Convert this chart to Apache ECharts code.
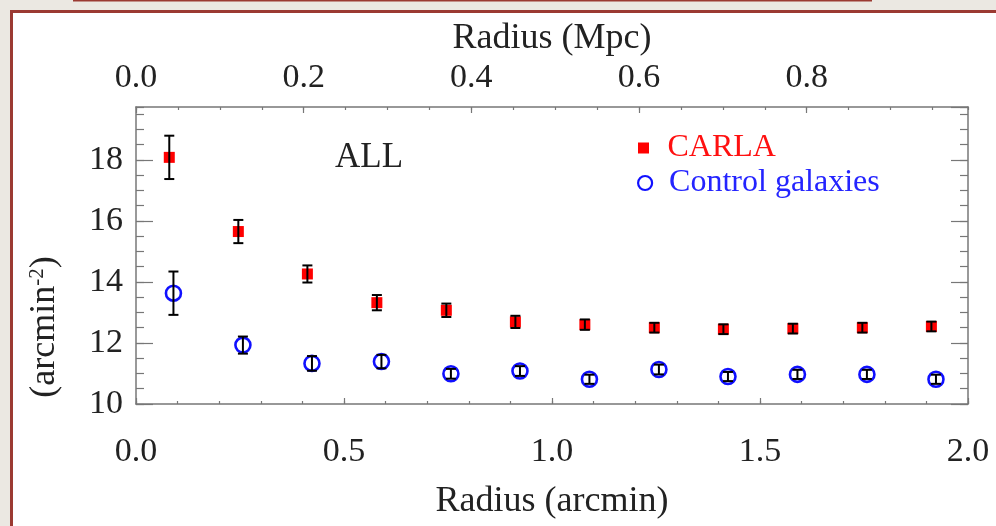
<!DOCTYPE html>
<html>
<head>
<meta charset="utf-8">
<script src="https://cdn.jsdelivr.net/npm/echarts@6/dist/echarts.min.js"></script>
<style>
html,body{margin:0;padding:0;background:#ebe8e2;}
#chart{width:996px;height:526px;}
</style>
</head>
<body>
<div id="chart"></div>
<script>
// ---- data ----
const carlaX   = [0.080, 0.246, 0.412, 0.579, 0.746, 0.912, 1.079, 1.246, 1.412, 1.579, 1.746, 1.912];
const carlaY   = [18.08, 15.65, 14.26, 13.32, 13.07, 12.69, 12.60, 12.50, 12.45, 12.47, 12.50, 12.54];
const carlaErr = [0.71, 0.38, 0.28, 0.25, 0.22, 0.20, 0.17, 0.16, 0.16, 0.16, 0.16, 0.16];

const controlX   = [0.090, 0.257, 0.423, 0.590, 0.757, 0.923, 1.090, 1.257, 1.423, 1.590, 1.757, 1.923];
const controlY   = [13.63, 11.93, 11.33, 11.39, 10.99, 11.08, 10.81, 11.13, 10.90, 10.97, 10.97, 10.81];
const controlErr = [0.71, 0.28, 0.24, 0.22, 0.16, 0.16, 0.15, 0.16, 0.15, 0.15, 0.15, 0.15];

const seriesNames = ['CARLA', 'Control galaxies'];
const panelLabel = 'ALL';
const xNameBottom = 'Radius (arcmin)';
const xNameTop = 'Radius (Mpc)';
const arcminMin = 0, arcminMax = 2.0;
const mpcPerArcmin = 0.4962;
const yMin = 10, yMax = 19.73;

// ---- styling ----
const FONT = '"Liberation Serif", "DejaVu Serif", serif';
const TXT = '#222';
const AX = '#777';
const axLine = {show: true, onZero: false, lineStyle: {color: AX, width: 1.5}};
const noLine = {show: false, onZero: false};
const tick = (len) => ({show: true, inside: true, length: len, lineStyle: {color: AX, width: 1.2}});
const lbl = (extra) => Object.assign({color: TXT, fontFamily: FONT, fontSize: 34}, extra);

function multipleOf(v, step) {
  const r = v / step;
  return Math.abs(r - Math.round(r)) < 1e-6;
}

const mpcMax = arcminMax * mpcPerArcmin;

const chart = echarts.init(document.getElementById('chart'), null, {renderer: 'canvas'});

function errorBarRender(params, api) {
  const x = api.value(0), y = api.value(1), e = api.value(2);
  const top = api.coord([x, y + e]);
  const bot = api.coord([x, y - e]);
  const hw = 5;
  const st = {stroke: '#000', lineWidth: 2};
  return {
    type: 'group',
    children: [
      {type: 'line', shape: {x1: top[0], y1: top[1], x2: bot[0], y2: bot[1]}, style: st},
      {type: 'line', shape: {x1: top[0] - hw, y1: top[1], x2: top[0] + hw, y2: top[1]}, style: st},
      {type: 'line', shape: {x1: bot[0] - hw, y1: bot[1], x2: bot[0] + hw, y2: bot[1]}, style: st}
    ]
  };
}

const option = {
  animation: false,
  backgroundColor: '#ebe8e2',
  graphic: [
    {type: 'rect', z: -10, shape: {x: 11.5, y: 11.5, width: 1000, height: 530},
     style: {fill: '#ffffff', stroke: '#9b3a32', lineWidth: 3}},
    {type: 'rect', z: -10, shape: {x: 73, y: 0, width: 799, height: 1.6},
     style: {fill: '#9b3a32'}},
    {type: 'text', x: 45, y: 327, rotation: Math.PI / 2,
     style: {text: '(arcmin{s|-2})', font: '36px ' + FONT, fill: TXT, align: 'center', verticalAlign: 'middle',
             rich: {s: {fontSize: 21, fontFamily: FONT, fill: TXT, verticalAlign: 'top'}}}}
  ],
  title: {
    text: panelLabel, left: 335, top: 140, padding: 0,
    textStyle: {fontFamily: FONT, fontSize: 35, fontWeight: 'normal', color: TXT}
  },
  legend: [
    {
      left: 638, top: 132, orient: 'vertical', itemWidth: 38, itemHeight: 11, padding: 0,
      symbolKeepAspect: true,
      data: [{name: seriesNames[0], icon: 'path://M0,0H10V10H0Z', itemStyle: {color: '#ff0000'}}],
      textStyle: {fontFamily: FONT, fontSize: 32, color: '#ff1010'}
    },
    {
      left: 637, top: 167, orient: 'vertical', itemWidth: 38, itemHeight: 14, padding: 0,
      data: [{name: seriesNames[1], icon: 'circle',
              itemStyle: {color: 'rgba(0,0,0,0)', borderColor: '#1010ff', borderWidth: 2.2}}],
      textStyle: {fontFamily: FONT, fontSize: 32, color: '#2424ff'}
    }
  ],
  grid: {left: 136, top: 107, right: 28, bottom: 122, show: false},
  xAxis: [
    {
      type: 'value', position: 'bottom', min: arcminMin, max: arcminMax, interval: 0.5,
      axisLine: axLine, axisTick: tick(6), splitLine: {show: false},
      axisLabel: lbl({margin: 31, formatter: v => v.toFixed(1)}),
      name: xNameBottom, nameLocation: 'middle', nameGap: 80,
      nameTextStyle: {fontFamily: FONT, fontSize: 36, color: TXT}
    },
    {
      type: 'value', position: 'bottom', min: arcminMin, max: arcminMax, interval: 0.1,
      axisLine: noLine, axisTick: tick(3), axisLabel: {show: false}, splitLine: {show: false}
    },
    {
      type: 'value', position: 'top', min: 0, max: mpcMax, interval: 0.2,
      axisLine: axLine, axisTick: tick(6), splitLine: {show: false},
      axisLabel: lbl({margin: 12, showMaxLabel: false,
        formatter: v => multipleOf(v, 0.2) ? v.toFixed(1) : ''}),
      name: xNameTop, nameLocation: 'middle', nameGap: 50,
      nameTextStyle: {fontFamily: FONT, fontSize: 36, color: TXT}
    },
    {
      type: 'value', position: 'top', min: 0, max: mpcMax, interval: 0.05,
      axisLine: noLine, axisTick: tick(3), axisLabel: {show: false}, splitLine: {show: false}
    }
  ],
  yAxis: [
    {
      type: 'value', position: 'left', min: yMin, max: yMax, interval: 2,
      axisLine: axLine, axisTick: tick(17), splitLine: {show: false},
      axisLabel: lbl({margin: 13, showMaxLabel: false,
        formatter: v => (multipleOf(v, 2) ? String(Math.round(v)) : '')})
    },
    {
      type: 'value', position: 'left', min: yMin, max: yMax, interval: 0.5,
      axisLine: noLine, axisTick: tick(8), axisLabel: {show: false}, splitLine: {show: false}
    },
    {
      type: 'value', position: 'right', min: yMin, max: yMax, interval: 2,
      axisLine: axLine, axisTick: tick(17), axisLabel: {show: false}, splitLine: {show: false}
    },
    {
      type: 'value', position: 'right', min: yMin, max: yMax, interval: 0.5,
      axisLine: noLine, axisTick: tick(8), axisLabel: {show: false}, splitLine: {show: false}
    }
  ],
  series: [
    {
      name: seriesNames[0], type: 'scatter', xAxisIndex: 0, yAxisIndex: 0, z: 2,
      symbol: 'rect', symbolSize: 11,
      itemStyle: {color: '#ff0000', opacity: 1},
      data: carlaX.map((x, i) => [x, carlaY[i]])
    },
    {
      name: seriesNames[1], type: 'scatter', xAxisIndex: 0, yAxisIndex: 0, z: 2,
      symbol: 'circle', symbolSize: 15,
      itemStyle: {color: 'rgba(0,0,0,0)', borderColor: '#1010ff', borderWidth: 2.6, opacity: 1},
      data: controlX.map((x, i) => [x, controlY[i]])
    },
    {
      name: 'carlaErr', type: 'custom', xAxisIndex: 0, yAxisIndex: 0, z: 5,
      renderItem: errorBarRender,
      data: carlaX.map((x, i) => [x, carlaY[i], carlaErr[i]])
    },
    {
      name: 'controlErr', type: 'custom', xAxisIndex: 0, yAxisIndex: 0, z: 5,
      renderItem: errorBarRender,
      data: controlX.map((x, i) => [x, controlY[i], controlErr[i]])
    }
  ]
};
chart.setOption(option);
</script>
</body>
</html>
